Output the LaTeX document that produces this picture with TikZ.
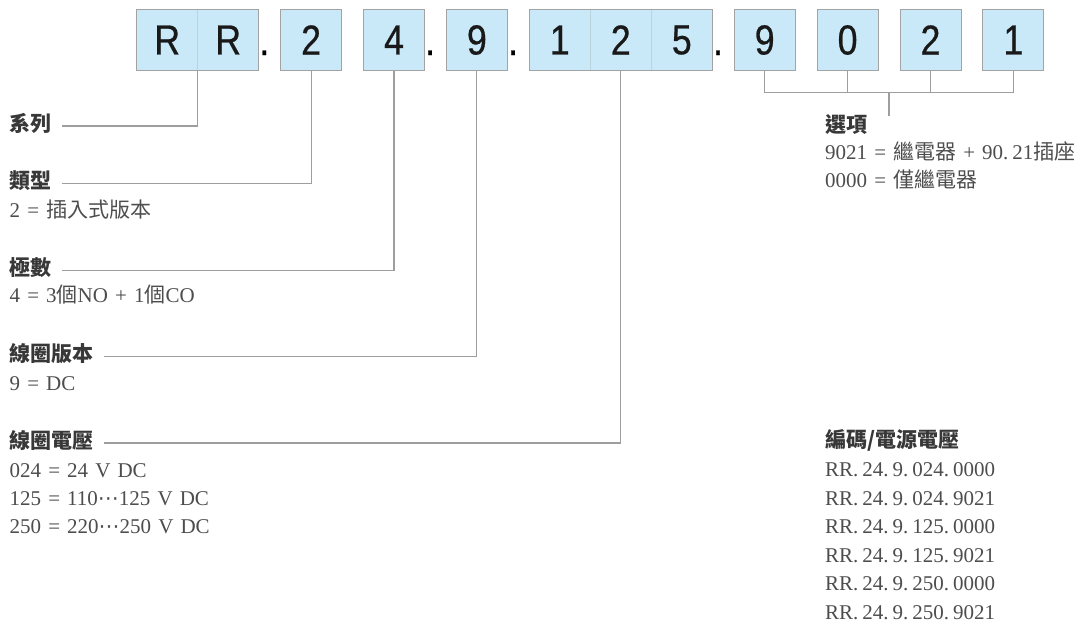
\documentclass[tikz,border=0pt]{standalone}
\usepackage{fontspec}
\setmainfont[WordSpace=1.35]{Liberation Serif}
\newfontfamily\zh{Noto Sans CJK TC}
\newfontfamily\symfont{DejaVu Sans}
\newfontfamily\boxfont[FakeStretch=0.85,FakeBold=0.6]{Liberation Sans}
\newcommand\pd{.\kern4pt}
\usetikzlibrary{positioning}
\definecolor{cellfill}{HTML}{C9E9F8}
\definecolor{cellline}{HTML}{A3A3A3}
\definecolor{cellsep}{HTML}{B9D3DF}
\definecolor{leadline}{HTML}{9E9E9E}
\definecolor{headtext}{HTML}{383838}
\definecolor{valtext}{HTML}{4D4D4D}

\begin{document}
\begin{tikzpicture}[x=1pt,y=-1pt,
    cell/.style={draw=cellline,fill=cellfill,line width=1pt,minimum width=61pt,minimum height=61.4pt,inner sep=0pt,outer sep=0pt,text=black!90,font=\boxfont\fontsize{42}{42}\selectfont},
    subcell/.style={cell,draw=cellsep},
    sepdot/.style={anchor=base west,inner sep=0pt,xshift=0.5pt,yshift=15.7pt,font=\boxfont\fontsize{42}{42}\selectfont},
    head/.style={anchor=west,inner sep=0pt,text=headtext,font=\zh\bfseries\fontsize{21}{21}\selectfont},
    val/.style={anchor=base west,inner sep=0pt,text=valtext,font=\fontsize{21}{21}\selectfont},
    lead/.style={draw=leadline,line width=1.1pt}]
    \useasboundingbox (0,0) rectangle (1092,624);
    % code cells
    \node[subcell] (r1) at (167.2,40) {R};
    \node[subcell,right=0pt of r1] (r2) {R};
    \node[cell,right=21.9pt of r2] (c2) {2};
    \node[cell,right=21.9pt of c2] (c4) {4};
    \node[cell,right=21.9pt of c4] (c9) {9};
    \node[subcell,right=21.9pt of c9] (d1) {1};
    \node[subcell,right=0pt of d1] (d2) {2};
    \node[subcell,right=0pt of d2] (d3) {5};
    \node[cell,right=21.9pt of d3] (o9) {9};
    \node[cell,right=21.9pt of o9] (o0) {0};
    \node[cell,right=21.9pt of o0] (o2) {2};
    \node[cell,right=21.9pt of o2] (o1) {1};
    \draw[cellline,line width=1pt] (r1.north west) rectangle (r2.south east);
    \draw[cellline,line width=1pt] (d1.north west) rectangle (d3.south east);
    \node[sepdot] at (r2.south east) {.};
    \node[sepdot] at (c4.south east) {.};
    \node[sepdot] at (c9.south east) {.};
    \node[sepdot] at (d3.south east) {.};
    % left labels
    \node[head] (series) at (9.5,123.3) {系列};
    \node[head] (type) at (9.5,180.6) {類型};
    \node[val] (typev) at (9.5,217) {2 = {\zh 插入式版本}};
    \node[head] (poles) at (9.5,268) {極數};
    \node[val] (polesv) at (9.5,302.7) {4 = 3{\zh 個}NO + 1{\zh 個}CO};
    \node[head] (coil) at (9.5,354) {線圈版本};
    \node[val] (coilv) at (9.5,390) {9 = DC};
    \node[head] (volt) at (9.5,440.3) {線圈電壓};
    \node[val] (volt1) at (9.5,477) {024 = 24 V DC};
    \node[val] (volt2) at (9.5,505) {125 = 110{\symfont ⋯}125 V DC};
    \node[val] (volt3) at (9.5,533.7) {250 = 220{\symfont ⋯}250 V DC};
    % right labels
    \node[head] (opt) at (825,125) {選項};
    \node[val] (opt1) at (825,159) {9021 = {\zh 繼電器} + 90\pd 21{\zh 插座}};
    \node[val] (opt2) at (825,187) {0000 = {\zh 僅繼電器}};
    \node[head] (code) at (825,440) {編碼/電源電壓};
    \node[val] (code1) at (825,476.5) {RR\pd 24\pd 9\pd 024\pd 0000};
    \node[val] (code2) at (825,505) {RR\pd 24\pd 9\pd 024\pd 9021};
    \node[val] (code3) at (825,533.5) {RR\pd 24\pd 9\pd 125\pd 0000};
    \node[val] (code4) at (825,562) {RR\pd 24\pd 9\pd 125\pd 9021};
    \node[val] (code5) at (825,590.5) {RR\pd 24\pd 9\pd 250\pd 0000};
    \node[val] (code6) at (825,619) {RR\pd 24\pd 9\pd 250\pd 9021};
    % leaders
    \draw[lead] ([xshift=10pt]series.east) ++(0,2.7) -| (r1.south east);
    \draw[lead] ([xshift=10pt]type.east) ++(0,2.7) -| (c2.south);
    \draw[lead] ([xshift=10pt]poles.east) ++(0,2.7) -| (c4.south);
    \draw[lead] ([xshift=10pt]coil.east) ++(0,2.7) -| (c9.south);
    \draw[lead] ([xshift=10pt]volt.east) ++(0,2.7) -| (d2.south);
    \coordinate (obar) at (889,92.7);
    \coordinate (oend) at (889,116);
    \draw[lead] (o9.south) |- (obar) -| (o1.south);
    \draw[lead] (o0.south) -- (o0.south |- obar);
    \draw[lead] (o2.south) -- (o2.south |- obar);
    \draw[lead] (obar) -- (oend);
\end{tikzpicture}
\end{document}
